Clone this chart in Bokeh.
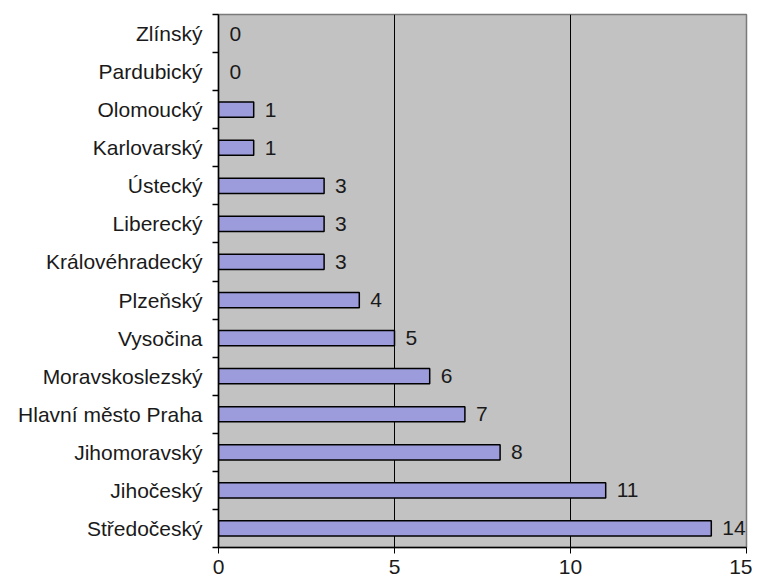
from bokeh.plotting import figure
from bokeh.models import ColumnDataSource, FixedTicker, Range1d
from bokeh.core.properties import value
from bokeh.embed import file_html
from bokeh.resources import INLINE

# data, bottom to top
regions = ["Středočeský", "Jihočeský", "Jihomoravský", "Hlavní město Praha",
           "Moravskoslezský", "Vysočina", "Plzeňský", "Královéhradecký",
           "Liberecký", "Ústecký", "Karlovarský", "Olomoucký", "Pardubický", "Zlínský"]
counts = [14, 11, 8, 7, 6, 5, 4, 3, 3, 3, 1, 1, 0, 0]
x_ticks = [0, 5, 10, 15]

ypos = [i + 0.5 for i in range(len(regions))]
bar_idx = [i for i, c in enumerate(counts) if c > 0]

bars = ColumnDataSource(dict(y=[ypos[i] for i in bar_idx], v=[counts[i] for i in bar_idx]))
labels = ColumnDataSource(dict(y=ypos, v=counts, t=[str(c) for c in counts]))

FONT = "Liberation Sans"
FS = "21px"

p = figure(width=752, height=576, output_backend="svg", toolbar_location=None,
           x_range=Range1d(0, 15), y_range=Range1d(0, len(regions)),
           min_border_left=218, min_border_right=6, min_border_top=14, min_border_bottom=26)

p.background_fill_color = "#c2c2c2"
p.border_fill_color = "white"
p.outline_line_color = "#7a7a7a"
p.outline_line_width = 1.5

p.hbar(y="y", left=0, right="v", height=0.4, source=bars,
       fill_color="#9c9cdc", line_color="black", line_width=1.5)

p.text(x="v", y="y", text="t", source=labels, x_offset=11,
       text_baseline="middle", text_align="left",
       text_font=value(FONT), text_font_size=FS, text_color="#1a1a1a")

# x axis
p.xaxis.ticker = FixedTicker(ticks=x_ticks)
p.xaxis.major_tick_out = 6
p.xaxis.major_tick_in = 0
p.xaxis.minor_tick_out = 0
p.xaxis.axis_line_color = "black"
p.xaxis.axis_line_width = 1.5
p.xaxis.major_tick_line_color = "black"
p.xaxis.major_label_standoff = 6
p.xaxis.major_label_text_font = FONT
p.xaxis.major_label_text_font_size = FS
p.xaxis.major_label_text_color = "#1a1a1a"

# y axis: labels at centers, ticks at boundaries
p.yaxis.ticker = FixedTicker(ticks=ypos, minor_ticks=[float(i) for i in range(len(regions) + 1)])
p.yaxis.major_label_overrides = {y: r for y, r in zip(ypos, regions)}
p.yaxis.major_tick_out = 0
p.yaxis.major_tick_in = 0
p.yaxis.minor_tick_out = 6
p.yaxis.minor_tick_in = 0
p.yaxis.minor_tick_line_color = "black"
p.yaxis.minor_tick_line_width = 1.5
p.yaxis.axis_line_color = "black"
p.yaxis.axis_line_width = 1.5
p.yaxis.major_label_standoff = 10
p.yaxis.major_label_text_font = FONT
p.yaxis.major_label_text_font_size = FS
p.yaxis.major_label_text_color = "#1a1a1a"

p.xgrid.ticker = FixedTicker(ticks=[5, 10])
p.xgrid.grid_line_color = "black"
p.xgrid.grid_line_width = 1
p.ygrid.grid_line_color = None

open("out.html", "w").write(file_html(p, INLINE))
